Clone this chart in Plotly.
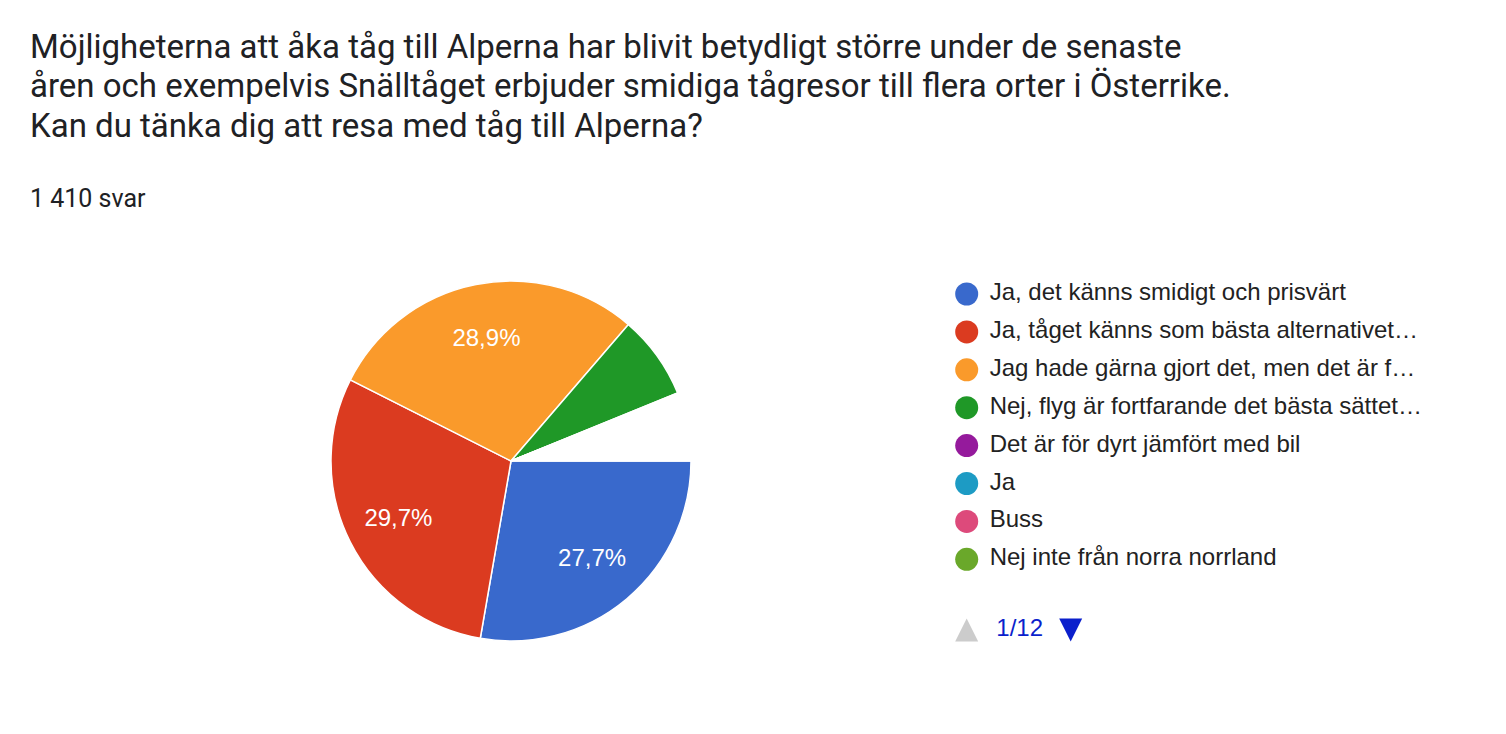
import plotly.graph_objects as go

# survey answers, 1 410 responses in total
total = 1410
labels = [
    "Ja, det känns smidigt och prisvärt",
    "Ja, tåget känns som bästa alternativet…",
    "Jag hade gärna gjort det, men det är f…",
    "Nej, flyg är fortfarande det bästa sättet…",
    "Det är för dyrt jämfört med bil",
    "Ja",
    "Buss",
    "Nej inte från norra norrland",
]
counts = [391, 419, 407, 106, 1, 1, 1, 1]
colors = ["#3969cc", "#db3b20", "#fa9a2b", "#1f9827",
          "#951a9c", "#1d9bc4", "#dd4a7b", "#6aa82a"]
residue = total - sum(counts)  # the many other small answers (pages 2-12)

title_lines = [
    "Möjligheterna att åka tåg till Alperna har blivit betydligt större under de senaste",
    "åren och exempelvis Snälltåget erbjuder smidiga tågresor till flera orter i Österrike.",
    "Kan du tänka dig att resa med tåg till Alperna?",
]
subtitle = "1 410 svar"
page_text = "1/12"

W, H = 1506, 734

# tiny slices are hidden like in google charts -> drawn white
visible = [c / total >= 0.02 for c in counts]
pie_vals = counts + [residue]
pie_cols = [col if v else "white" for col, v in zip(colors, visible)] + ["white"]
pie_text = []
for c in pie_vals:
    p = c / total * 100
    pie_text.append(f"{p:.1f}".replace(".", ",") + "%" if p >= 10 else "")

pie_dom = dict(x=[331 / W, 691 / W], y=[1 - 641 / H, 1 - 281 / H])

fig = go.Figure()
fig.add_trace(go.Pie(
    labels=labels + ["Övrigt"], values=pie_vals, sort=False,
    direction="clockwise", rotation=90,
    marker=dict(colors=pie_cols, line=dict(color="white", width=1.5)),
    textinfo="none", domain=pie_dom,
    showlegend=False, hoverinfo="label+percent",
))
# transparent ring on top only for the labels, pushes them further out
fig.add_trace(go.Pie(
    labels=labels + ["Övrigt"], values=pie_vals, sort=False,
    direction="clockwise", rotation=90, hole=0.4,
    marker=dict(colors=["rgba(0,0,0,0)"] * len(pie_vals), line=dict(width=0)),
    text=pie_text, textinfo="text", textposition="inside",
    insidetextorientation="horizontal",
    textfont=dict(family="Arial, Liberation Sans", size=24, color="white"),
    domain=pie_dom, showlegend=False, hoverinfo="skip",
))

# legend drawn as a scatter column, one row per answer
rows = list(range(len(labels)))
fig.add_trace(go.Scatter(
    x=[0] * len(labels), y=rows, mode="markers",
    marker=dict(size=23, color=colors, line=dict(width=0)),
    showlegend=False, hoverinfo="skip",
))
fig.add_trace(go.Scatter(
    x=[23] * len(labels), y=rows, mode="text", text=labels,
    textposition="middle right",
    textfont=dict(family="Arial, Liberation Sans", size=24, color="#222222"),
    showlegend=False, hoverinfo="skip",
))

row0, step = 294, 37.9
# pager under the legend (arrow symbols have their tip on the point)
page_row = 8.865
half = 11.5 / step
fig.add_trace(go.Scatter(
    x=[0, 104], y=[page_row - half, page_row + half], mode="markers",
    marker=dict(symbol=["arrow-up", "arrow-down"], size=23,
                color=["#cccccc", "#0b1fcc"], line=dict(width=0)),
    showlegend=False, hoverinfo="skip",
))
fig.add_trace(go.Scatter(
    x=[53], y=[page_row], mode="text", text=[page_text],
    textposition="middle center",
    textfont=dict(family="Arial, Liberation Sans", size=24, color="#0b1fcc"),
    showlegend=False, hoverinfo="skip",
))

ann = []
for i, line in enumerate(title_lines):
    ann.append(dict(
        text=line, x=28 / W, y=1 - (46 + 40 * i) / H, xref="paper", yref="paper",
        xanchor="left", yanchor="middle", showarrow=False,
        font=dict(family="Roboto", size=33, color="#202124"),
    ))
ann.append(dict(
    text=subtitle, x=28 / W, y=1 - 198 / H, xref="paper", yref="paper",
    xanchor="left", yanchor="middle", showarrow=False,
    font=dict(family="Roboto", size=25, color="#202124"),
))

fig.update_layout(
    width=W, height=H,
    margin=dict(l=0, r=0, t=0, b=0),
    paper_bgcolor="white", plot_bgcolor="white",
    xaxis=dict(range=[-966.7, W - 966.7], domain=[0, 1], visible=False, fixedrange=True),
    yaxis=dict(range=[(H - row0) / step, -row0 / step], domain=[0, 1], visible=False, fixedrange=True),
    annotations=ann,
)

fig.write_html("out.html", config={"displayModeBar": False},
               post_script="document.body.style.margin='0';")
